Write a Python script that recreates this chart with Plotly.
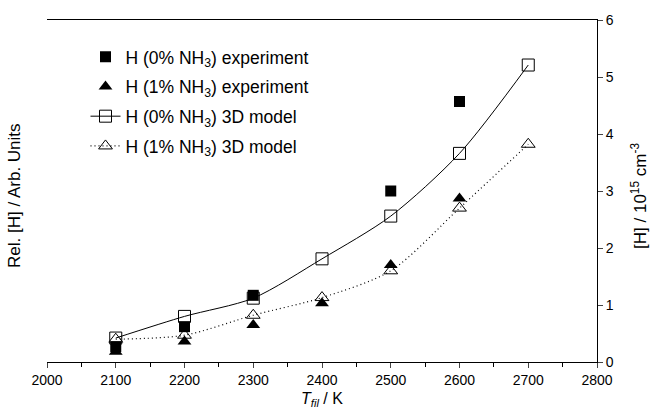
import plotly.graph_objects as go

temps_model = [2100, 2200, 2300, 2400, 2500, 2600, 2700]
model_0 = [0.42, 0.80, 1.12, 1.81, 2.56, 3.66, 5.21]
model_1 = [0.40, 0.47, 0.82, 1.13, 1.60, 2.70, 3.82]

temps_exp0 = [2100, 2200, 2300, 2500, 2600]
exp_0 = [0.27, 0.62, 1.17, 3.00, 4.57]
temps_exp1 = [2100, 2200, 2300, 2400, 2500, 2600]
exp_1 = [0.18, 0.36, 0.65, 1.03, 1.70, 2.87]

x_ticks = [2000, 2100, 2200, 2300, 2400, 2500, 2600, 2700, 2800]
y_ticks = [0, 1, 2, 3, 4, 5, 6]

FONT = "Liberation Sans, Arial, sans-serif"

fig = go.Figure()
fig.add_trace(go.Scatter(
    x=temps_exp0, y=exp_0, mode="markers", name="H (0% NH<sub>3</sub>) experiment",
    marker=dict(symbol="square", size=11, color="black"), legendgroup="a", yaxis="y2"))
fig.add_trace(go.Scatter(
    x=temps_exp1, y=exp_1, mode="markers", name="H (1% NH<sub>3</sub>) experiment",
    marker=dict(symbol="triangle-up", size=12, color="black"), legendgroup="b", yaxis="y2"))
fig.add_trace(go.Scatter(
    x=temps_model, y=model_0, mode="lines+markers", name="H (0% NH<sub>3</sub>) 3D model",
    line=dict(color="black", width=1, shape="spline", smoothing=0.8),
    marker=dict(symbol="square-open", size=12, color="black", line=dict(width=1)),
    legendgroup="c", yaxis="y2"))
fig.add_trace(go.Scatter(
    x=temps_model, y=model_1, mode="lines+markers", name="H (1% NH<sub>3</sub>) 3D model",
    line=dict(color="black", width=1.2, dash="1px,3px", shape="spline", smoothing=0.8),
    marker=dict(symbol="triangle-up-open", size=12, color="black", line=dict(width=1)),
    legendgroup="d", yaxis="y2"))

fig.update_layout(
    width=653, height=413,
    margin=dict(l=47, r=56, t=18, b=51),
    paper_bgcolor="white", plot_bgcolor="white",
    font=dict(family=FONT, size=14, color="black"),
    showlegend=True,
    legend=dict(x=0.07, y=0.945, xanchor="left", yanchor="top",
                font=dict(size=17.5, family=FONT), bgcolor="rgba(0,0,0,0)",
                traceorder="grouped", tracegroupgap=4, itemwidth=30),
    xaxis=dict(range=[2000, 2800], tickvals=x_ticks, ticks="outside", ticklen=5,
               showline=True, linecolor="black", linewidth=1, mirror=True,
               showgrid=False, zeroline=False,
               minor=dict(ticks="outside", ticklen=4, dtick=50, tickcolor="black"),
               tickfont=dict(size=14)),
    yaxis=dict(range=[0, 6], tickvals=y_ticks, ticks="outside", ticklen=5,
               showticklabels=False, showline=True, linecolor="black", linewidth=1,
               showgrid=False, zeroline=False),
    yaxis2=dict(range=[0, 6], tickvals=y_ticks, ticks="outside", ticklen=5,
                overlaying="y", side="right", showline=True, linecolor="black", linewidth=1,
                showgrid=False, zeroline=False, tickfont=dict(size=14)),
    annotations=[
        dict(text="Rel. [H] / Arb. Units", xref="paper", yref="paper",
             x=(15 - 47) / 550, y=(362 - 195) / 344, xanchor="center", yanchor="middle",
             textangle=-90, showarrow=False, font=dict(size=17)),
        dict(text="[H] / 10<sup>15</sup> cm<sup>-3</sup>", xref="paper", yref="paper",
             x=(639 - 47) / 550, y=(362 - 195) / 344, xanchor="center", yanchor="middle",
             textangle=-90, showarrow=False, font=dict(size=17)),
        dict(text="<i>T</i><sub><i>fil</i></sub> / K", xref="paper", yref="paper",
             x=(322 - 47) / 550, y=-(400 - 362) / 344, xanchor="center", yanchor="middle",
             showarrow=False, font=dict(size=16)),
    ],
)

fig.write_html("out.html")
